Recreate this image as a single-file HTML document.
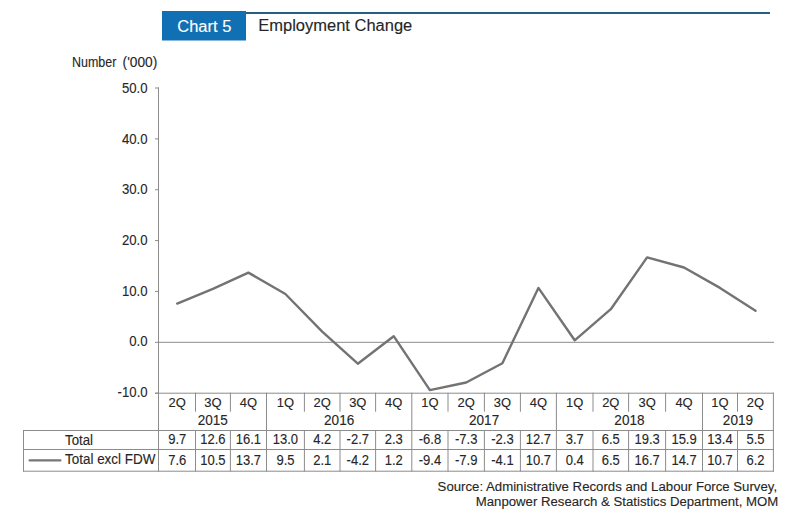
<!DOCTYPE html><html><head><meta charset="utf-8"><style>html,body{margin:0;padding:0;background:#fff;width:800px;height:514px;overflow:hidden}svg{display:block;font-family:"Liberation Sans",sans-serif}</style></head><body>
<svg width="800" height="514" viewBox="0 0 800 514">
<rect x="162" y="11" width="84" height="29.5" fill="#1170b3"/>
<rect x="246" y="12" width="524" height="2" fill="#27607f"/>
<text x="177.30" y="31.70" font-size="16" fill="#ffffff" stroke="#ffffff" stroke-width="0.12" textLength="54" lengthAdjust="spacingAndGlyphs">Chart 5</text>
<text x="258.30" y="30.60" font-size="16" fill="#262626" stroke="#262626" stroke-width="0.12" textLength="154" lengthAdjust="spacingAndGlyphs">Employment Change</text>
<text x="72.00" y="66.60" font-size="14" fill="#262626" stroke="#262626" stroke-width="0.12" textLength="44.3" lengthAdjust="spacingAndGlyphs">Number</text>
<text x="122.60" y="66.60" font-size="14" fill="#262626" stroke="#262626" stroke-width="0.12" textLength="34.6" lengthAdjust="spacingAndGlyphs">('000)</text>
<text transform="translate(147.60 93.08) scale(0.94 1)" font-size="14" fill="#262626" stroke="#262626" stroke-width="0.12" text-anchor="end">50.0</text>
<rect x="155" y="87.50" width="4" height="1" fill="#8c8c8c"/>
<text transform="translate(147.60 143.72) scale(0.94 1)" font-size="14" fill="#262626" stroke="#262626" stroke-width="0.12" text-anchor="end">40.0</text>
<rect x="155" y="138.36" width="4" height="1" fill="#8c8c8c"/>
<text transform="translate(147.60 194.36) scale(0.94 1)" font-size="14" fill="#262626" stroke="#262626" stroke-width="0.12" text-anchor="end">30.0</text>
<rect x="155" y="189.22" width="4" height="1" fill="#8c8c8c"/>
<text transform="translate(147.60 245.00) scale(0.94 1)" font-size="14" fill="#262626" stroke="#262626" stroke-width="0.12" text-anchor="end">20.0</text>
<rect x="155" y="240.08" width="4" height="1" fill="#8c8c8c"/>
<text transform="translate(147.60 295.64) scale(0.94 1)" font-size="14" fill="#262626" stroke="#262626" stroke-width="0.12" text-anchor="end">10.0</text>
<rect x="155" y="290.94" width="4" height="1" fill="#8c8c8c"/>
<text transform="translate(147.60 346.28) scale(0.94 1)" font-size="14" fill="#262626" stroke="#262626" stroke-width="0.12" text-anchor="end">0.0</text>
<rect x="155" y="341.80" width="4" height="1" fill="#8c8c8c"/>
<text transform="translate(147.60 396.92) scale(0.94 1)" font-size="14" fill="#262626" stroke="#262626" stroke-width="0.12" text-anchor="end">-10.0</text>
<rect x="155" y="392.66" width="4" height="1" fill="#8c8c8c"/>
<rect x="158" y="341.80" width="616" height="1" fill="#8c8c8c"/>
<rect x="158" y="87.5" width="1" height="384.0" fill="#8c8c8c"/>
<rect x="155" y="392.7" width="619.0" height="1" fill="#8c8c8c"/>
<rect x="195.0" y="392.7" width="1" height="19" fill="#8c8c8c"/>
<rect x="195.0" y="430" width="1" height="41.5" fill="#8c8c8c"/>
<rect x="229.9" y="392.7" width="1" height="19" fill="#8c8c8c"/>
<rect x="229.9" y="430" width="1" height="41.5" fill="#8c8c8c"/>
<rect x="266.0" y="392.7" width="1" height="78.8" fill="#8c8c8c"/>
<rect x="303.9" y="392.7" width="1" height="19" fill="#8c8c8c"/>
<rect x="303.9" y="430" width="1" height="41.5" fill="#8c8c8c"/>
<rect x="339.5" y="392.7" width="1" height="19" fill="#8c8c8c"/>
<rect x="339.5" y="430" width="1" height="41.5" fill="#8c8c8c"/>
<rect x="375.1" y="392.7" width="1" height="19" fill="#8c8c8c"/>
<rect x="375.1" y="430" width="1" height="41.5" fill="#8c8c8c"/>
<rect x="411.3" y="392.7" width="1" height="78.8" fill="#8c8c8c"/>
<rect x="447.5" y="392.7" width="1" height="19" fill="#8c8c8c"/>
<rect x="447.5" y="430" width="1" height="41.5" fill="#8c8c8c"/>
<rect x="483.9" y="392.7" width="1" height="19" fill="#8c8c8c"/>
<rect x="483.9" y="430" width="1" height="41.5" fill="#8c8c8c"/>
<rect x="519.9" y="392.7" width="1" height="19" fill="#8c8c8c"/>
<rect x="519.9" y="430" width="1" height="41.5" fill="#8c8c8c"/>
<rect x="555.9" y="392.7" width="1" height="78.8" fill="#8c8c8c"/>
<rect x="592.5" y="392.7" width="1" height="19" fill="#8c8c8c"/>
<rect x="592.5" y="430" width="1" height="41.5" fill="#8c8c8c"/>
<rect x="628.1" y="392.7" width="1" height="19" fill="#8c8c8c"/>
<rect x="628.1" y="430" width="1" height="41.5" fill="#8c8c8c"/>
<rect x="665.1" y="392.7" width="1" height="19" fill="#8c8c8c"/>
<rect x="665.1" y="430" width="1" height="41.5" fill="#8c8c8c"/>
<rect x="702.0" y="392.7" width="1" height="78.8" fill="#8c8c8c"/>
<rect x="737.0" y="392.7" width="1" height="19" fill="#8c8c8c"/>
<rect x="737.0" y="430" width="1" height="41.5" fill="#8c8c8c"/>
<rect x="772.9" y="392.7" width="1" height="78.8" fill="#8c8c8c"/>
<rect x="23" y="430" width="751.0" height="1" fill="#8c8c8c"/>
<rect x="23" y="449" width="751.0" height="1" fill="#8c8c8c"/>
<rect x="23" y="470.7" width="751.0" height="1" fill="#8c8c8c"/>
<rect x="23" y="430" width="1" height="41.5" fill="#8c8c8c"/>
<text transform="translate(177.25 406.70) scale(0.96 1)" font-size="13.5" fill="#262626" stroke="#262626" stroke-width="0.12" text-anchor="middle">2Q</text>
<text transform="translate(177.25 444.20) scale(0.93 1)" font-size="14" fill="#262626" stroke="#262626" stroke-width="0.12" text-anchor="middle">9.7</text>
<text transform="translate(177.25 464.60) scale(0.93 1)" font-size="14" fill="#262626" stroke="#262626" stroke-width="0.12" text-anchor="middle">7.6</text>
<text transform="translate(212.95 406.70) scale(0.96 1)" font-size="13.5" fill="#262626" stroke="#262626" stroke-width="0.12" text-anchor="middle">3Q</text>
<text transform="translate(212.95 444.20) scale(0.93 1)" font-size="14" fill="#262626" stroke="#262626" stroke-width="0.12" text-anchor="middle">12.6</text>
<text transform="translate(212.95 464.60) scale(0.93 1)" font-size="14" fill="#262626" stroke="#262626" stroke-width="0.12" text-anchor="middle">10.5</text>
<text transform="translate(248.45 406.70) scale(0.96 1)" font-size="13.5" fill="#262626" stroke="#262626" stroke-width="0.12" text-anchor="middle">4Q</text>
<text transform="translate(248.45 444.20) scale(0.93 1)" font-size="14" fill="#262626" stroke="#262626" stroke-width="0.12" text-anchor="middle">16.1</text>
<text transform="translate(248.45 464.60) scale(0.93 1)" font-size="14" fill="#262626" stroke="#262626" stroke-width="0.12" text-anchor="middle">13.7</text>
<text transform="translate(285.45 406.70) scale(0.96 1)" font-size="13.5" fill="#262626" stroke="#262626" stroke-width="0.12" text-anchor="middle">1Q</text>
<text transform="translate(285.45 444.20) scale(0.93 1)" font-size="14" fill="#262626" stroke="#262626" stroke-width="0.12" text-anchor="middle">13.0</text>
<text transform="translate(285.45 464.60) scale(0.93 1)" font-size="14" fill="#262626" stroke="#262626" stroke-width="0.12" text-anchor="middle">9.5</text>
<text transform="translate(322.20 406.70) scale(0.96 1)" font-size="13.5" fill="#262626" stroke="#262626" stroke-width="0.12" text-anchor="middle">2Q</text>
<text transform="translate(322.20 444.20) scale(0.93 1)" font-size="14" fill="#262626" stroke="#262626" stroke-width="0.12" text-anchor="middle">4.2</text>
<text transform="translate(322.20 464.60) scale(0.93 1)" font-size="14" fill="#262626" stroke="#262626" stroke-width="0.12" text-anchor="middle">2.1</text>
<text transform="translate(357.80 406.70) scale(0.96 1)" font-size="13.5" fill="#262626" stroke="#262626" stroke-width="0.12" text-anchor="middle">3Q</text>
<text transform="translate(357.80 444.20) scale(0.93 1)" font-size="14" fill="#262626" stroke="#262626" stroke-width="0.12" text-anchor="middle">-2.7</text>
<text transform="translate(357.80 464.60) scale(0.93 1)" font-size="14" fill="#262626" stroke="#262626" stroke-width="0.12" text-anchor="middle">-4.2</text>
<text transform="translate(393.70 406.70) scale(0.96 1)" font-size="13.5" fill="#262626" stroke="#262626" stroke-width="0.12" text-anchor="middle">4Q</text>
<text transform="translate(393.70 444.20) scale(0.93 1)" font-size="14" fill="#262626" stroke="#262626" stroke-width="0.12" text-anchor="middle">2.3</text>
<text transform="translate(393.70 464.60) scale(0.93 1)" font-size="14" fill="#262626" stroke="#262626" stroke-width="0.12" text-anchor="middle">1.2</text>
<text transform="translate(429.90 406.70) scale(0.96 1)" font-size="13.5" fill="#262626" stroke="#262626" stroke-width="0.12" text-anchor="middle">1Q</text>
<text transform="translate(429.90 444.20) scale(0.93 1)" font-size="14" fill="#262626" stroke="#262626" stroke-width="0.12" text-anchor="middle">-6.8</text>
<text transform="translate(429.90 464.60) scale(0.93 1)" font-size="14" fill="#262626" stroke="#262626" stroke-width="0.12" text-anchor="middle">-9.4</text>
<text transform="translate(466.20 406.70) scale(0.96 1)" font-size="13.5" fill="#262626" stroke="#262626" stroke-width="0.12" text-anchor="middle">2Q</text>
<text transform="translate(466.20 444.20) scale(0.93 1)" font-size="14" fill="#262626" stroke="#262626" stroke-width="0.12" text-anchor="middle">-7.3</text>
<text transform="translate(466.20 464.60) scale(0.93 1)" font-size="14" fill="#262626" stroke="#262626" stroke-width="0.12" text-anchor="middle">-7.9</text>
<text transform="translate(502.40 406.70) scale(0.96 1)" font-size="13.5" fill="#262626" stroke="#262626" stroke-width="0.12" text-anchor="middle">3Q</text>
<text transform="translate(502.40 444.20) scale(0.93 1)" font-size="14" fill="#262626" stroke="#262626" stroke-width="0.12" text-anchor="middle">-2.3</text>
<text transform="translate(502.40 464.60) scale(0.93 1)" font-size="14" fill="#262626" stroke="#262626" stroke-width="0.12" text-anchor="middle">-4.1</text>
<text transform="translate(538.40 406.70) scale(0.96 1)" font-size="13.5" fill="#262626" stroke="#262626" stroke-width="0.12" text-anchor="middle">4Q</text>
<text transform="translate(538.40 444.20) scale(0.93 1)" font-size="14" fill="#262626" stroke="#262626" stroke-width="0.12" text-anchor="middle">12.7</text>
<text transform="translate(538.40 464.60) scale(0.93 1)" font-size="14" fill="#262626" stroke="#262626" stroke-width="0.12" text-anchor="middle">10.7</text>
<text transform="translate(574.70 406.70) scale(0.96 1)" font-size="13.5" fill="#262626" stroke="#262626" stroke-width="0.12" text-anchor="middle">1Q</text>
<text transform="translate(574.70 444.20) scale(0.93 1)" font-size="14" fill="#262626" stroke="#262626" stroke-width="0.12" text-anchor="middle">3.7</text>
<text transform="translate(574.70 464.60) scale(0.93 1)" font-size="14" fill="#262626" stroke="#262626" stroke-width="0.12" text-anchor="middle">0.4</text>
<text transform="translate(610.80 406.70) scale(0.96 1)" font-size="13.5" fill="#262626" stroke="#262626" stroke-width="0.12" text-anchor="middle">2Q</text>
<text transform="translate(610.80 444.20) scale(0.93 1)" font-size="14" fill="#262626" stroke="#262626" stroke-width="0.12" text-anchor="middle">6.5</text>
<text transform="translate(610.80 464.60) scale(0.93 1)" font-size="14" fill="#262626" stroke="#262626" stroke-width="0.12" text-anchor="middle">6.5</text>
<text transform="translate(647.10 406.70) scale(0.96 1)" font-size="13.5" fill="#262626" stroke="#262626" stroke-width="0.12" text-anchor="middle">3Q</text>
<text transform="translate(647.10 444.20) scale(0.93 1)" font-size="14" fill="#262626" stroke="#262626" stroke-width="0.12" text-anchor="middle">19.3</text>
<text transform="translate(647.10 464.60) scale(0.93 1)" font-size="14" fill="#262626" stroke="#262626" stroke-width="0.12" text-anchor="middle">16.7</text>
<text transform="translate(684.05 406.70) scale(0.96 1)" font-size="13.5" fill="#262626" stroke="#262626" stroke-width="0.12" text-anchor="middle">4Q</text>
<text transform="translate(684.05 444.20) scale(0.93 1)" font-size="14" fill="#262626" stroke="#262626" stroke-width="0.12" text-anchor="middle">15.9</text>
<text transform="translate(684.05 464.60) scale(0.93 1)" font-size="14" fill="#262626" stroke="#262626" stroke-width="0.12" text-anchor="middle">14.7</text>
<text transform="translate(720.00 406.70) scale(0.96 1)" font-size="13.5" fill="#262626" stroke="#262626" stroke-width="0.12" text-anchor="middle">1Q</text>
<text transform="translate(720.00 444.20) scale(0.93 1)" font-size="14" fill="#262626" stroke="#262626" stroke-width="0.12" text-anchor="middle">13.4</text>
<text transform="translate(720.00 464.60) scale(0.93 1)" font-size="14" fill="#262626" stroke="#262626" stroke-width="0.12" text-anchor="middle">10.7</text>
<text transform="translate(755.45 406.70) scale(0.96 1)" font-size="13.5" fill="#262626" stroke="#262626" stroke-width="0.12" text-anchor="middle">2Q</text>
<text transform="translate(755.45 444.20) scale(0.93 1)" font-size="14" fill="#262626" stroke="#262626" stroke-width="0.12" text-anchor="middle">5.5</text>
<text transform="translate(755.45 464.60) scale(0.93 1)" font-size="14" fill="#262626" stroke="#262626" stroke-width="0.12" text-anchor="middle">6.2</text>
<text transform="translate(212.75 424.90) scale(0.97 1)" font-size="14" fill="#262626" stroke="#262626" stroke-width="0.12" text-anchor="middle">2015</text>
<text transform="translate(339.15 424.90) scale(0.97 1)" font-size="14" fill="#262626" stroke="#262626" stroke-width="0.12" text-anchor="middle">2016</text>
<text transform="translate(484.10 424.90) scale(0.97 1)" font-size="14" fill="#262626" stroke="#262626" stroke-width="0.12" text-anchor="middle">2017</text>
<text transform="translate(629.45 424.90) scale(0.97 1)" font-size="14" fill="#262626" stroke="#262626" stroke-width="0.12" text-anchor="middle">2018</text>
<text transform="translate(737.95 424.90) scale(0.97 1)" font-size="14" fill="#262626" stroke="#262626" stroke-width="0.12" text-anchor="middle">2019</text>
<text x="65.00" y="444.50" font-size="14" fill="#262626" stroke="#262626" stroke-width="0.12" textLength="28" lengthAdjust="spacingAndGlyphs">Total</text>
<text x="65.00" y="464.00" font-size="14" fill="#262626" stroke="#262626" stroke-width="0.12" textLength="90.4" lengthAdjust="spacingAndGlyphs">Total excl FDW</text>
<rect x="28.5" y="459.3" width="33" height="2.2" rx="1.1" fill="#767676"/>
<text x="437.60" y="490.80" font-size="12.5" fill="#262626" stroke="#262626" stroke-width="0.12" textLength="339.5" lengthAdjust="spacingAndGlyphs">Source: Administrative Records and Labour Force Survey,</text>
<text x="475.80" y="505.50" font-size="12.5" fill="#262626" stroke="#262626" stroke-width="0.12" textLength="302.5" lengthAdjust="spacingAndGlyphs">Manpower Research &amp; Statistics Department, MOM</text>
<polyline points="177.2,303.6 212.9,288.9 248.4,272.6 285.4,294.0 322.2,331.6 357.8,363.7 393.7,336.2 429.9,390.1 466.2,382.5 502.4,363.2 538.4,287.9 574.7,340.3 610.8,309.2 647.1,257.4 684.0,267.5 720.0,287.9 755.5,310.8" fill="none" stroke="#737373" stroke-width="2.4" stroke-linejoin="round" stroke-linecap="round"/>
</svg></body></html>
